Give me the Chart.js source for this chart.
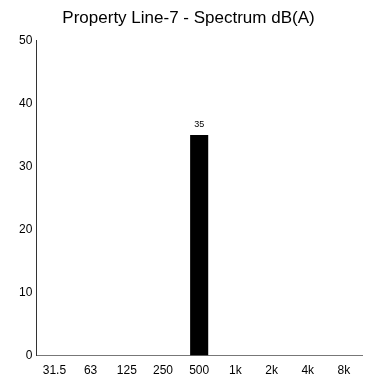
<!DOCTYPE html>
<html>
<head>
<meta charset="utf-8">
<script src="https://cdn.jsdelivr.net/npm/chart.js@4"></script>
<style>
  html, body { margin: 0; padding: 0; background: #fff; }
  #wrap { width: 366px; height: 387px; }
</style>
</head>
<body>
<div id="wrap"><canvas id="spectrumChart" width="366" height="387"></canvas></div>
<script>
const bands = ['31.5', '63', '125', '250', '500', '1k', '2k', '4k', '8k'];
const levels = [null, null, null, null, 35, null, null, null, null];
const yTicks = [0, 10, 20, 30, 40, 50];

// small plugin to print the value above each bar
const valueLabels = {
    id: 'valueLabels',
    afterDatasetsDraw(chart) {
        const ctx = chart.ctx;
        const meta = chart.getDatasetMeta(0);
        ctx.save();
        ctx.font = '9px "Liberation Sans", Arial, sans-serif';
        ctx.fillStyle = '#000';
        ctx.textAlign = 'center';
        ctx.textBaseline = 'bottom';
        meta.data.forEach((bar, i) => {
            const v = levels[i];
            if (v === null) return;
            ctx.fillText(String(v), bar.x, bar.y - 6);
        });
        ctx.restore();
    }
};

new Chart(document.getElementById('spectrumChart'), {
    type: 'bar',
    data: {
        labels: bands,
        datasets: [{
            data: levels,
            backgroundColor: '#000',
            borderWidth: 0,
            barPercentage: 0.5,
            categoryPercentage: 1.0
        }]
    },
    options: {
        responsive: false,
        animation: false,
        layout: { padding: { left: 15, right: 4, top: 0, bottom: 1 } },
        plugins: {
            legend: { display: false },
            tooltip: { enabled: false },
            title: {
                display: true,
                text: 'Property Line-7 - Spectrum dB(A)',
                color: '#000',
                font: { family: '"Liberation Sans", Arial, sans-serif', size: 17, weight: 'normal' },
                padding: { top: 8, bottom: 12 }
            }
        },
        scales: {
            x: {
                grid: { display: false, drawTicks: false },
                border: { color: '#777', width: 1 },
                ticks: {
                    color: '#000',
                    padding: 8,
                    font: { family: '"Liberation Sans", Arial, sans-serif', size: 12 }
                }
            },
            y: {
                min: 0,
                max: 50,
                afterBuildTicks: axis => { axis.ticks = yTicks.map(v => ({ value: v })); },
                grid: { display: false, drawTicks: false },
                border: { color: '#333', width: 1 },
                ticks: {
                    color: '#000',
                    padding: 4,
                    font: { family: '"Liberation Sans", Arial, sans-serif', size: 12 }
                }
            }
        }
    },
    plugins: [valueLabels]
});
</script>
</body>
</html>
